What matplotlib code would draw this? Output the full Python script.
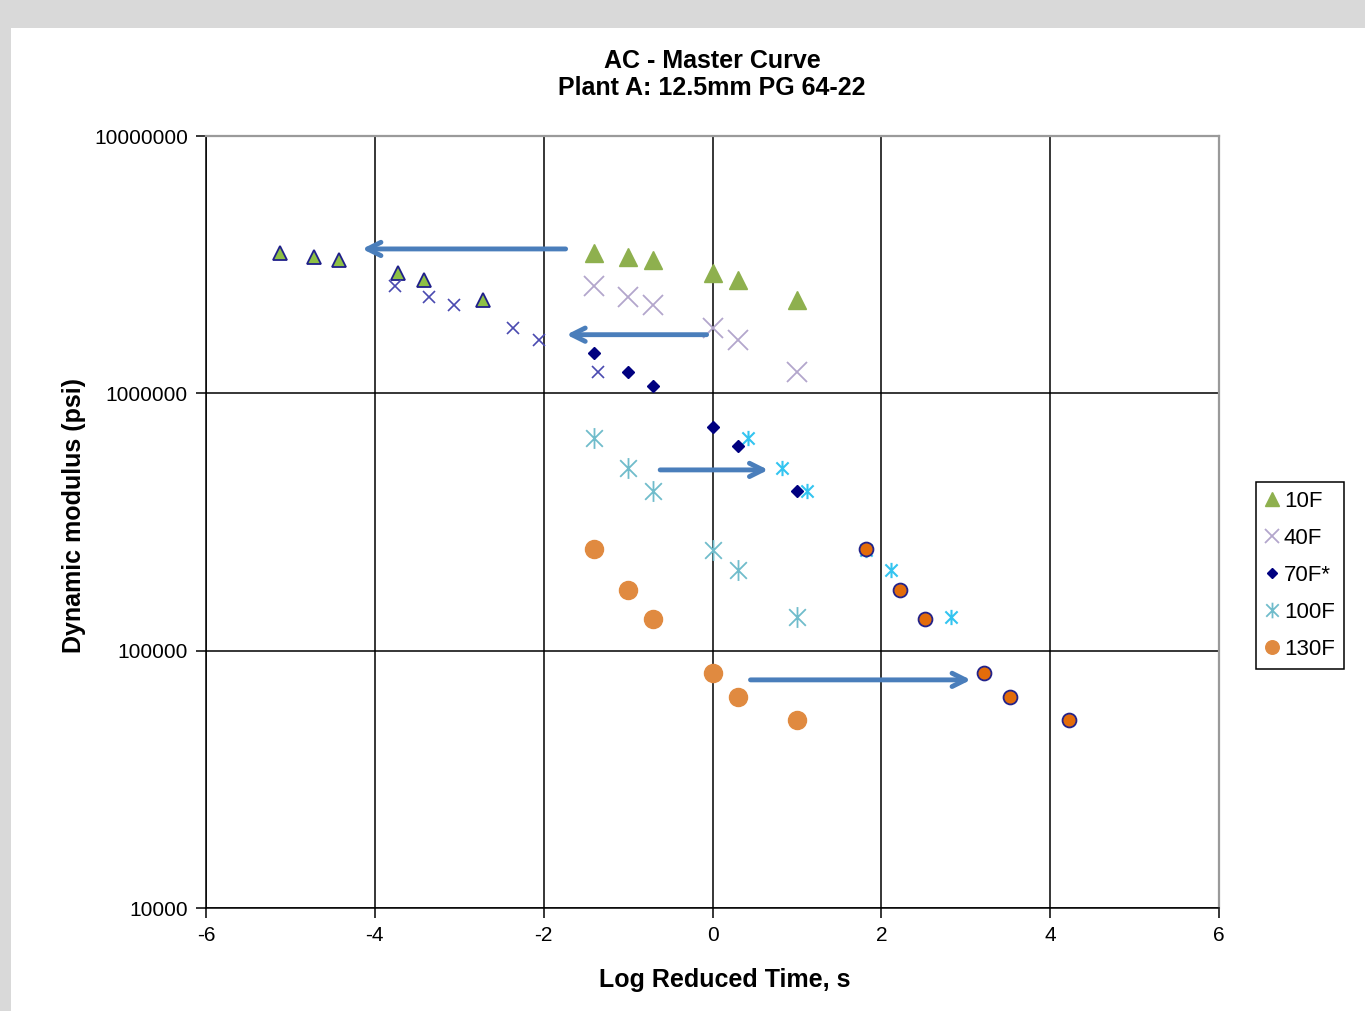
import matplotlib
matplotlib.use('Agg')
import matplotlib.pyplot as plt
from matplotlib.path import Path
from matplotlib.patches import Rectangle
from matplotlib.ticker import FixedLocator, FuncFormatter, NullLocator

plt.rcParams['font.family'] = ['Liberation Sans', 'DejaVu Sans']

# log reduced time at the reference temperature (25, 10, 5, 1, 0.5, 0.1 Hz)
log_t = [-1.40, -1.00, -0.70, 0.00, 0.30, 1.00]

# dynamic modulus, psi
e_10f = [3.51e6, 3.39e6, 3.30e6, 2.94e6, 2.76e6, 2.31e6]
e_40f = [2.61e6, 2.37e6, 2.20e6, 1.79e6, 1.61e6, 1.21e6]
e_70f = [1.44e6, 1.21e6, 1.07e6, 7.39e5, 6.24e5, 4.17e5]
e_100f = [6.70e5, 5.13e5, 4.17e5, 2.46e5, 2.06e5, 1.35e5]
e_130f = [2.48e5, 1.72e5, 1.33e5, 8.19e4, 6.61e4, 5.37e4]

# log shift factors (70F reference)
shift_10f = -3.72
shift_40f = -2.36
shift_100f = 1.82
shift_130f = 3.22

# arrows: (x start, x end, modulus)
arrows = [(-1.74, -4.15, 3.64e6),
          (-0.07, -1.73, 1.69e6),
          (-0.62, 0.66, 5.04e5),
          (0.45, 3.06, 7.7e4)]

star = Path([(-1, -1), (1, 1), (-1, 1), (1, -1), (0, -1.25), (0, 1.25)],
            [Path.MOVETO, Path.LINETO, Path.MOVETO, Path.LINETO, Path.MOVETO, Path.LINETO])

fig = plt.figure(figsize=(13.65, 10.11), dpi=100, facecolor='#d9d9d9')
fig.patches.append(Rectangle((11/1365, 0), 1, 1 - 28/1011, transform=fig.transFigure,
                             facecolor='white', edgecolor='none', zorder=-10))
ax = fig.add_axes([206/1365, 1 - 908/1011, (1219 - 206)/1365, (908 - 136)/1011])

ax.set_yscale('log')
ax.set_xlim(-6, 6)
ax.set_ylim(1e4, 1e7)

# measured (unshifted)
h10, = ax.plot(log_t, e_10f, ls='none', marker='^', ms=13, mfc='#8eb04e', mec='#8eb04e', label='10F')
h40, = ax.plot(log_t, e_40f, ls='none', marker='x', ms=14, mec='#b3a6cc', mew=1.3, label='40F')
h70, = ax.plot(log_t, e_70f, ls='none', marker='D', ms=6.5, mfc='#000080', mec='#000080', label='70F*', zorder=4)
h100, = ax.plot(log_t, e_100f, ls='none', marker=star, ms=15, mfc='none', mec='#70bccb', mew=1.3, label='100F')
h130, = ax.plot(log_t, e_130f, ls='none', marker='o', ms=13, mfc='#e08a40', mec='#e08a40', label='130F')

# shifted onto master curve
ax.plot([t + shift_10f for t in log_t], e_10f, ls='none', marker='^', ms=9.5,
        mfc='#8ec045', mec='#1f1f8a', mew=1.3)
ax.plot([t + shift_40f for t in log_t], e_40f, ls='none', marker='x', ms=9,
        mec='#4a4ab0', mew=1.2)
ax.plot([t + shift_100f for t in log_t], e_100f, ls='none', marker=star, ms=11,
        mfc='none', mec='#33c4f0', mew=1.5)
ax.plot([t + shift_130f for t in log_t], e_130f, ls='none', marker='o', ms=10,
        mfc='#e36c0a', mec='#23238a', mew=1.3)

for x0, x1, y in arrows:
    ax.annotate('', xy=(x1, y), xytext=(x0, y),
                arrowprops=dict(arrowstyle='->', color='#4a7ebb', lw=3.5,
                                mutation_scale=24, shrinkA=0, shrinkB=0))

ax.xaxis.set_major_locator(FixedLocator([-6, -4, -2, 0, 2, 4, 6]))
ax.yaxis.set_major_locator(FixedLocator([1e4, 1e5, 1e6, 1e7]))
ax.yaxis.set_minor_locator(NullLocator())
ax.yaxis.set_major_formatter(FuncFormatter(lambda v, p: f'{int(round(v))}'))
ax.xaxis.set_major_formatter(FuncFormatter(lambda v, p: f'{int(v)}'))
ax.grid(True, color='black', lw=1.1)
ax.set_axisbelow(True)
ax.tick_params(direction='out', length=7, width=1.1, labelsize=15, colors='black', pad=6)
for s in ['left', 'bottom']:
    ax.spines[s].set_color('black')
    ax.spines[s].set_linewidth(1.1)
for s in ['top', 'right']:
    ax.spines[s].set_color('#9a9a9a')
    ax.spines[s].set_linewidth(1.6)

ax.set_xlabel('Log Reduced Time, s', fontsize=18, fontweight='bold')
ax.set_ylabel('Dynamic modulus (psi)', fontsize=18, fontweight='bold')
ax.xaxis.set_label_coords(0.512, -0.0777)
ax.yaxis.set_label_coords(-0.1185, 0.509)
fig.text(712/1365, 1 - 74.5/1011, 'AC - Master Curve\nPlant A: 12.5mm PG 64-22',
         ha='center', va='center', fontsize=18, fontweight='bold', linespacing=1.15)

leg = ax.legend(handles=[h10, h40, h70, h100, h130], loc='upper left',
                bbox_to_anchor=(1256/1365, 1 - 482/1011), bbox_transform=fig.transFigure,
                fontsize=16, markerscale=0.75, handlelength=0.6, handletextpad=0.25,
                borderpad=0.4, labelspacing=0.72, borderaxespad=0, fancybox=False,
                frameon=True, framealpha=1)
leg.get_frame().set_edgecolor('black')
leg.get_frame().set_linewidth(1.1)

fig.savefig('out.png', dpi=100, facecolor=fig.get_facecolor())
